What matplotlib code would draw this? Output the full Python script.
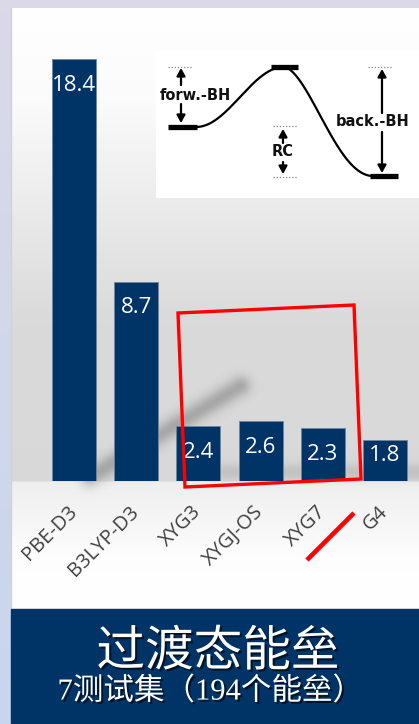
import matplotlib
matplotlib.use("Agg")
import matplotlib.pyplot as plt
import matplotlib.patheffects as pe
from matplotlib.patches import Polygon, Rectangle
import numpy as np

# bar chart data
methods = ['PBE-D3', 'B3LYP-D3', 'XYG3', 'XYGJ-OS', 'XYG7', 'G4']
barrier_err = [18.4, 8.7, 2.4, 2.6, 2.3, 1.8]

title = '过渡态能垒'
subtitle = '7测试集（194个能垒）'

W, H = 419, 724
navy = '#003366'

fig = plt.figure(figsize=(W / 100, H / 100), dpi=100)
fig.patch.set_facecolor('#dbd8e8')

# background layer in pixel coords
bg = fig.add_axes([0, 0, 1, 1])
bg.set_xlim(0, W)
bg.set_ylim(H, 0)
bg.axis('off')
bg.set_zorder(0)

yy = np.arange(H) + 0.5

# lavender strip on the left
strip = np.stack([np.interp(yy, [0, H], c) for c in ([0.86, 0.78], [0.85, 0.84], [0.91, 0.93])], axis=-1)
bg.imshow(strip[:, None, :], extent=(0, 11, H, 0), aspect='auto', interpolation='bilinear', zorder=0)

# panel background: white -> gray above the axis, light below
stops_y = [8, 100, 200, 320, 481, 482, 560, 609]
stops_g = [1.0, 0.985, 0.925, 0.855, 0.85, 0.935, 0.995, 1.0]
g = np.interp(yy[8:609], stops_y, stops_g)
panel = np.repeat(g[:, None, None], 3, axis=2)
bg.imshow(panel, extent=(11, W, 609, 8), aspect='auto', interpolation='bilinear', zorder=1)
bg.plot([10.5, 10.5], [8, 609], color='#d2d2d2', lw=1, zorder=2)

# soft drop shadows
xx, yg = np.meshgrid(np.arange(W) + 0.5, yy)


def seg_dist(p0, p1):
    p0 = np.array(p0, float)
    d = np.array(p1, float) - p0
    t = ((xx - p0[0]) * d[0] + (yg - p0[1]) * d[1]) / (d @ d)
    t = np.clip(t, 0, 1)
    return np.hypot(xx - (p0[0] + t * d[0]), yg - (p0[1] + t * d[1]))


alpha = 0.30 * np.exp(-seg_dist((90, 477), (240, 386)) ** 2 / (2 * 7 ** 2))
alpha += 0.13 * np.exp(-seg_dist((215, 472), (419, 472)) ** 2 / (2 * 6 ** 2))
shadow = np.zeros((H, W, 4))
shadow[..., :3] = 0.2
shadow[..., 3] = np.clip(alpha, 0, 1)
bg.imshow(shadow, extent=(0, W, H, 0), aspect='auto', interpolation='bilinear', zorder=3)

# title banner
bg.add_patch(Rectangle((11, 609), W - 11, H - 609, color=navy, zorder=4))
shade = [pe.withSimplePatchShadow(offset=(1.5, -1.5), shadow_rgbFace='black', alpha=0.6)]
bg.text(218, 652, title, color='white', fontsize=35, ha='center', va='center',
        family=['Noto Sans CJK SC'], path_effects=shade, zorder=5)
bg.text(210, 692, subtitle, color='white', fontsize=22, ha='center', va='center',
        family=['Liberation Serif', 'Noto Sans CJK SC'], path_effects=shade, zorder=5)

# bar chart
px_unit = 22.93
ax = fig.add_axes([11 / W, (H - 481) / H, (W - 11) / W, 473 / H])
ax.set_zorder(1)
ax.patch.set_alpha(0)
x = np.arange(len(methods))
ax.bar(x, barrier_err, width=0.707, color=navy, edgecolor='#6f86a0', linewidth=0.6, zorder=2)
for i, v in enumerate(barrier_err):
    ax.text(i, max(v - 1.15, 1.1), f'{v}', ha='center', va='center', color='white',
            fontsize=16, family='Open Sans', zorder=3)
ax.set_xlim((11 - 74) / 62.2, (W - 74) / 62.2)
ax.set_ylim(0, 473 / px_unit)
ax.set_yticks([])
ax.set_xticks(x)
ax.set_xticklabels(methods, family='Open Sans', fontsize=14.5, color='#404040')
for lab in ax.get_xticklabels():
    lab.set_rotation(45)
    lab.set_ha('right')
    lab.set_va('center')
    lab.set_rotation_mode('anchor')
ax.tick_params(axis='x', length=0, pad=20)
for s in ax.spines.values():
    s.set_visible(False)

# reaction profile inset
ins = fig.add_axes([156 / W, (H - 198) / H, (W - 156) / W, 148 / H])
ins.set_zorder(3)
ins.set_xlim(156, W)
ins.set_ylim(198, 50)
ins.set_xticks([])
ins.set_yticks([])
for s in ins.spines.values():
    s.set_visible(False)

lv_left, lv_ts, lv_right = 127, 67, 176
t = np.linspace(0, 1, 100)
up_x = 196 + (284 - 196) * t
up_y = lv_left - (lv_left - lv_ts) * (1 - np.cos(np.pi * t)) / 2
dn_x = 284 + (373 - 284) * t
dn_y = lv_ts + (lv_right - lv_ts) * (1 - np.cos(np.pi * t ** 0.85)) / 2
ins.plot(np.r_[up_x, dn_x], np.r_[up_y, dn_y], color='black', lw=1.6)
for x0, x1, y0 in [(168, 197, lv_left), (271, 298, lv_ts), (370, 398, lv_right)]:
    ins.plot([x0, x1], [y0, y0], color='black', lw=3.8, solid_capstyle='butt')
for x0, x1, y0 in [(168, 193, lv_ts), (273, 298, 126), (273, 298, 177), (368, 393, lv_ts)]:
    ins.plot([x0, x1], [y0, y0], color='#888888', lw=0.9, ls=(0, (1, 1.5)))

arr = dict(arrowstyle='-|>,head_length=0.45,head_width=0.25', color='black', lw=1.6,
           shrinkA=0, shrinkB=0)
for xa, ya, yb in [(181, 85, 68), (181, 104, 123), (283, 143, 129), (283, 162, 174),
                   (382, 113, 69), (382, 132, 173)]:
    ins.annotate('', xy=(xa, yb), xytext=(xa, ya), arrowprops=arr)
tkw = dict(ha='center', va='center', fontsize=10.5, fontweight='bold', color='#111111',
           family='DejaVu Sans')
ins.text(195, 95, 'forw.-BH', **tkw)
ins.text(283, 152, 'RC', **tkw)
ins.text(373, 122, 'back.-BH', **tkw)

# red highlight marks
ov = fig.add_axes([0, 0, 1, 1])
ov.set_zorder(4)
ov.patch.set_alpha(0)
ov.set_xlim(0, W)
ov.set_ylim(H, 0)
ov.axis('off')
ov.add_patch(Polygon([(178, 313), (354, 305), (361, 479), (185, 487)], closed=True,
                     fill=False, edgecolor='#ff0000', lw=2.4, joinstyle='miter'))
ov.plot([307, 354], [560, 513], color='#ff0000', lw=3.3, solid_capstyle='butt')

fig.savefig('out.png', dpi=100)
